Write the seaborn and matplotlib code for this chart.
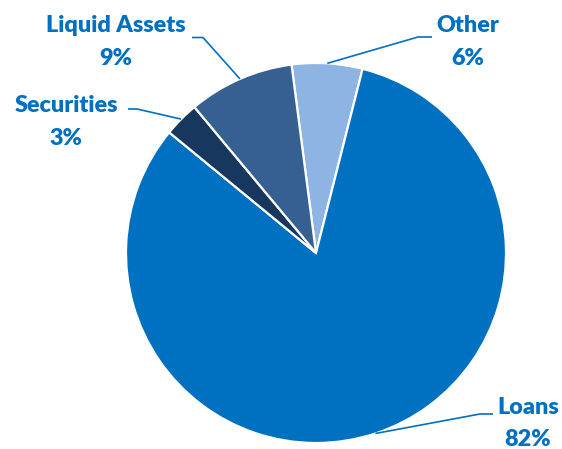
import numpy as np
import matplotlib
matplotlib.use("Agg")
import matplotlib.pyplot as plt
import seaborn as sns

# Asset composition, listed clockwise from the top of the pie
categories = ["Other", "Loans", "Securities", "Liquid Assets"]
shares = [6, 82, 3, 9]
pct_labels = ["6%", "82%", "3%", "9%"]

colors = ["#8DB4E2", "#0070C0", "#17375E", "#376092"]
text_color = "#0070C0"

sns.set_theme(style="white")
plt.rcParams["font.family"] = ["Lato", "DejaVu Sans"]

W, H = 562, 449
fig = plt.figure(figsize=(W / 100, H / 100), dpi=100)
ax = fig.add_axes([0, 0, 1, 1])

cx, cy, r = 316, H - 253, 190
wedges, _ = ax.pie(
    shares,
    colors=colors,
    startangle=97.4,
    counterclock=False,
    center=(cx, cy),
    radius=r,
    frame=True,
    wedgeprops=dict(edgecolor="white", linewidth=1.6),
)
ax.set_xlim(0, W)
ax.set_ylim(0, H)
ax.set_aspect("equal")
ax.axis("off")

# label x centre, baseline of the name line, elbow and stub end (image coords)
label_layout = {
    "Other": dict(x=468, base=32.3, gap=33, elbow=(418, 37), stub=(432, 37)),
    "Loans": dict(x=528, base=414.5, gap=31, elbow=(480, 414), stub=(493, 414)),
    "Securities": dict(x=66, base=112.3, gap=33, elbow=(137, 109), stub=(128, 109)),
    "Liquid Assets": dict(x=115.5, base=32, gap=33, elbow=(203, 37.5), stub=(192, 37.5)),
}

for w, name, pct in zip(wedges, categories, pct_labels):
    mid = np.deg2rad((w.theta1 + w.theta2) / 2)
    x0 = cx + r * np.cos(mid)
    y0 = cy + r * np.sin(mid)
    lay = label_layout[name]
    ex, ey = lay["elbow"]
    sx, sy = lay["stub"]
    ax.plot([x0, ex, sx], [y0, H - ey, H - sy], color=text_color, lw=1.2,
            solid_capstyle="butt")
    for i, s in enumerate([name, pct]):
        ax.text(lay["x"], H - (lay["base"] + i * lay["gap"]), s,
                ha="center", va="baseline", fontsize=16.8,
                fontweight="heavy", color=text_color)

fig.savefig("out.png", dpi=100)
